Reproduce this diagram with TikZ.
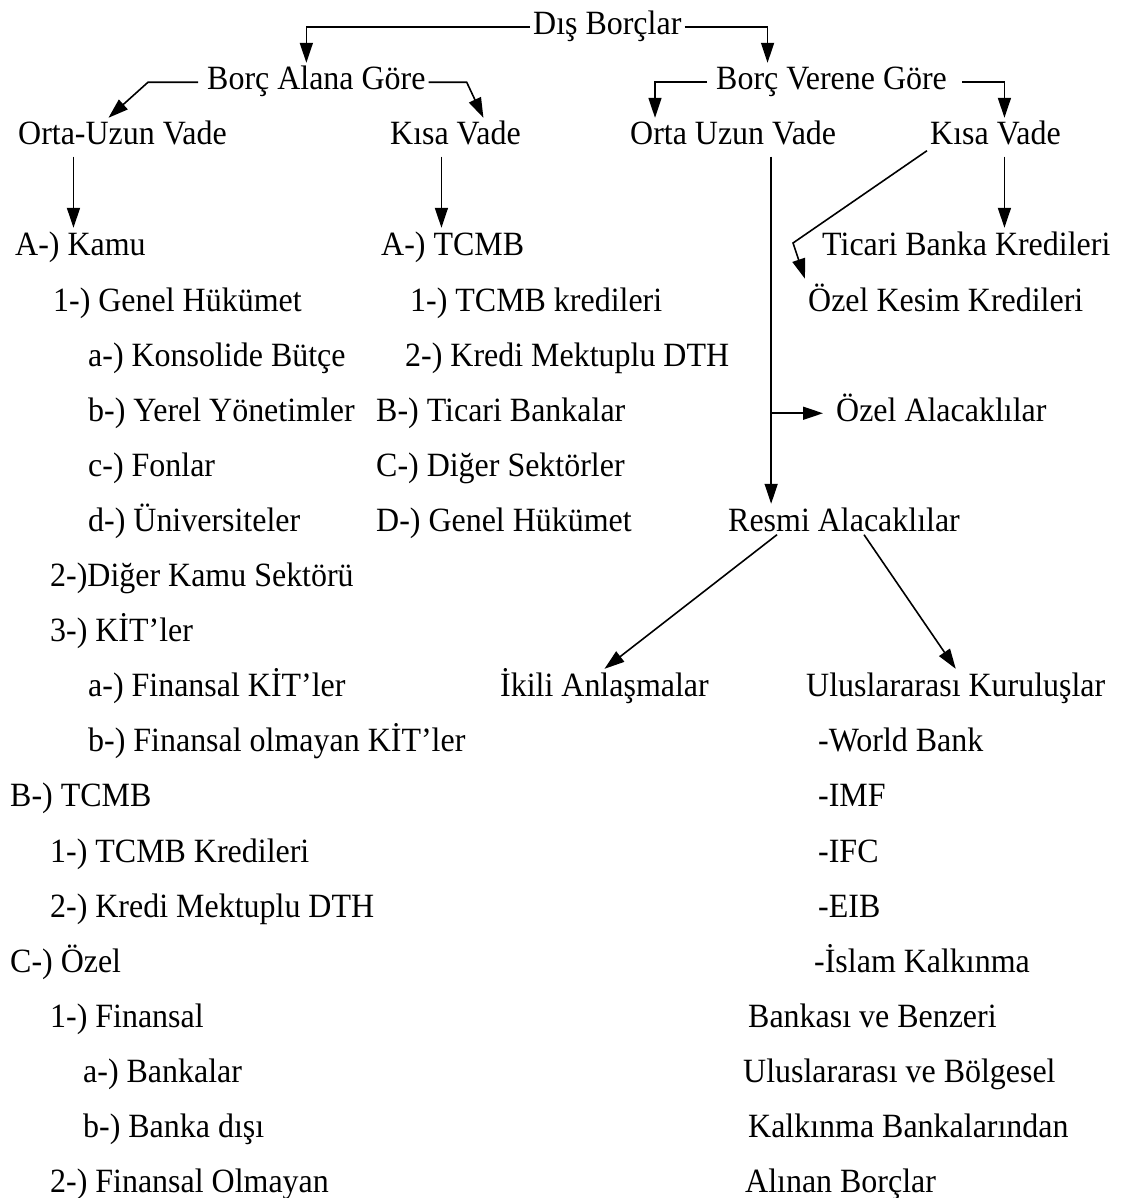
\documentclass[tikz,border=0pt]{standalone}
\usepackage{fontspec}
\setmainfont[FakeStretch=0.94]{Liberation Serif}
\usetikzlibrary{arrows.meta}
\tikzset{
  lbl/.style={anchor=base west, inner xsep=3pt, inner ysep=3pt,
    text height=24pt, text depth=8.5pt, font=\fontsize{34}{40}\selectfont},
  arr/.style={-{Triangle[length=20pt,width=13pt]}, line width=1.6pt}
}
\begin{document}
\begin{tikzpicture}[x=1pt, y=-1pt]
\useasboundingbox (0,0) rectangle (1126,1198);
% top levels
\node[lbl] (dis) at (530,35) {Dış Borçlar};
\node[lbl] (alan) at (204,90) {Borç Alana Göre};
\node[lbl] (veren) at (713,90) {Borç Verene Göre};
\node[lbl] (ortal) at (15,145) {Orta-Uzun Vade};
\node[lbl] (kisal) at (387,145) {Kısa Vade};
\node[lbl] (ortar) at (627,145) {Orta Uzun Vade};
\node[lbl] (kisar) at (927,145) {Kısa Vade};
% left column
\node[lbl] (kamu) at (12,255) {A-) Kamu};
\node[lbl] (genel) at (50,311) {1-) Genel Hükümet};
\node[lbl] (konsol) at (85,366) {a-) Konsolide Bütçe};
\node[lbl] (yerel) at (85,421) {b-) Yerel Yönetimler};
\node[lbl] (fonlar) at (85,476) {c-) Fonlar};
\node[lbl] (univ) at (85,531) {d-) Üniversiteler};
\node[lbl] (digkamu) at (47,586) {2-)Diğer Kamu Sektörü};
\node[lbl] (kit) at (47,641) {3-) KİT’ler};
\node[lbl] (finkit) at (85,696) {a-) Finansal KİT’ler};
\node[lbl] (nfinkit) at (85,751) {b-) Finansal olmayan KİT’ler};
\node[lbl] (tcmbb) at (7,806) {B-) TCMB};
\node[lbl] (tcmbkr) at (47,862) {1-) TCMB Kredileri};
\node[lbl] (dthl) at (47,917) {2-) Kredi Mektuplu DTH};
\node[lbl] (ozel) at (7,972) {C-) Özel};
\node[lbl] (finans) at (47,1027) {1-) Finansal};
\node[lbl] (bankalar) at (80,1082) {a-) Bankalar};
\node[lbl] (bdisi) at (80,1137) {b-) Banka dışı};
\node[lbl] (nfinans) at (47,1192) {2-) Finansal Olmayan};
% middle column
\node[lbl] (tcmba) at (378,255) {A-) TCMB};
\node[lbl] (tcmbk) at (407,311) {1-) TCMB kredileri};
\node[lbl] (dthk) at (402,366) {2-) Kredi Mektuplu DTH};
\node[lbl] (ticbank) at (373,421) {B-) Ticari Bankalar};
\node[lbl] (diger) at (373,476) {C-) Diğer Sektörler};
\node[lbl] (genhuk) at (373,531) {D-) Genel Hükümet};
\node[lbl] (ikili) at (497,696) {İkili Anlaşmalar};
% right column
\node[lbl] (ticari) at (819,255) {Ticari Banka Kredileri};
\node[lbl] (ozelk) at (805,311) {Özel Kesim Kredileri};
\node[lbl] (ozela) at (833,421) {Özel Alacaklılar};
\node[lbl] (resmi) at (725,531) {Resmi Alacaklılar};
\node[lbl] (ulus) at (803,696) {Uluslararası Kuruluşlar};
\node[lbl] (wb) at (815,751) {-World Bank};
\node[lbl] (imf) at (815,806) {-IMF};
\node[lbl] (ifc) at (815,862) {-IFC};
\node[lbl] (eib) at (815,917) {-EIB};
\node[lbl] (islam) at (811,972) {-İslam Kalkınma};
\node[lbl] (bankasi) at (745,1027) {Bankası ve Benzeri};
\node[lbl] (ulusbolg) at (740,1082) {Uluslararası ve Bölgesel};
\node[lbl] (kalkinma) at (745,1137) {Kalkınma Bankalarından};
\node[lbl] (alinan) at (742,1192) {Alınan Borçlar};
% connectors
\draw[arr] (dis.west) -| ([xshift=-10pt]alan.north);
\draw[arr] (dis.east) -| ([xshift=-64pt]veren.north);
\draw[arr] ([xshift=-6pt]alan.west) -- ++(-50,0) -- ([xshift=-14pt]ortal.north);
\draw[arr] (alan.east) -- ++(38,0) -- ([xshift=28pt]kisal.north);
\draw[arr] ([xshift=-6pt]veren.west) -| ([xshift=28pt]ortar.north west);
\draw[arr] ([xshift=12pt]veren.east) -| ([xshift=9pt]kisar.north);
\coordinate (ldrop) at ([xshift=-49pt]ortal.south);
\coordinate (kdrop) at ([xshift=-14pt]kisal.south);
\coordinate (rdrop) at ([xshift=38pt]ortar.south);
\coordinate (sdrop) at ([xshift=9pt]kisar.south);
\coordinate (kink) at (793,243);
\draw[arr] (ldrop) -- (ldrop |- kamu.north);
\draw[arr] (kdrop) -- (kdrop |- tcmba.north);
\draw[arr] (sdrop) -- (sdrop |- ticari.north);
\draw[arr] ([yshift=6pt]kisar.south west) -- (kink) -- ([yshift=5pt]ozelk.north west);
\draw[arr] (rdrop) -- (rdrop |- resmi.north);
\draw[arr] (rdrop |- ozela.west) -- ([xshift=-10pt]ozela.west);
\draw[arr] ([xshift=-67pt,yshift=8pt]resmi.south) -- (ikili.north);
\draw[arr] ([xshift=20pt,yshift=8pt]resmi.south) -- (ulus.north);
\end{tikzpicture}
\end{document}
